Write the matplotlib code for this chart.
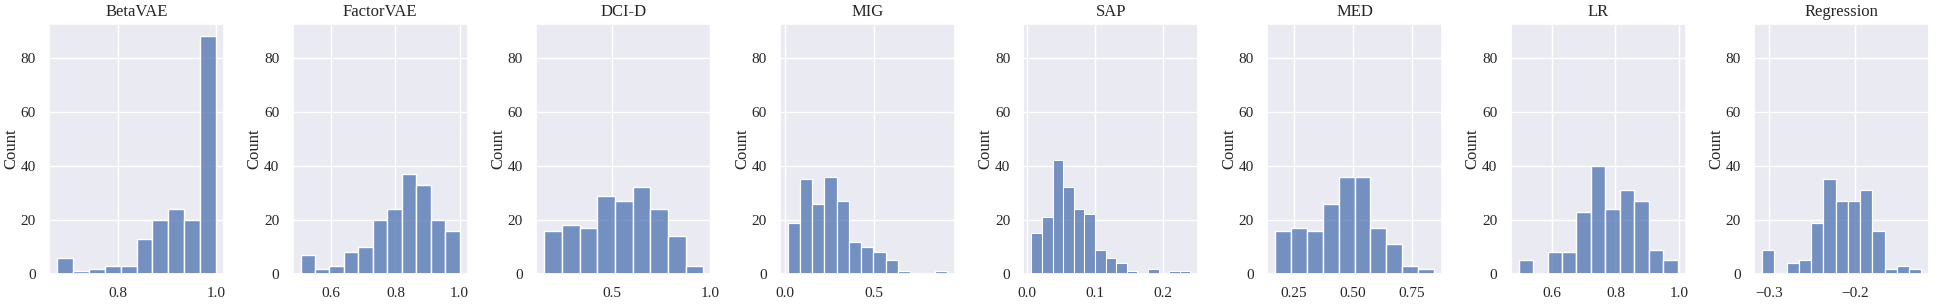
import matplotlib
matplotlib.use('Agg')
import matplotlib.pyplot as plt
import numpy as np
import pandas as pd
import seaborn as sns

# metric names, bin range (lo, hi) and bar counts
metrics = ['BetaVAE', 'FactorVAE', 'DCI-D', 'MIG', 'SAP', 'MED', 'LR', 'Regression']

beta_vae_range = (0.677, 1.0)
beta_vae_counts = [6, 1, 2, 3, 3, 13, 20, 24, 20, 88]

factor_vae_range = (0.505, 1.0)
factor_vae_counts = [7, 2, 3, 8, 10, 20, 24, 37, 33, 20, 16]

dci_range = (0.153, 0.966)
dci_counts = [16, 18, 17, 29, 27, 32, 24, 14, 3]

mig_range = (0.018, 0.906)
mig_counts = [19, 35, 26, 36, 27, 12, 10, 8, 5, 1, 0, 0, 1]

sap_range = (0.0063, 0.240)
sap_counts = [15, 21, 42, 32, 24, 22, 9, 6, 4, 1, 0, 2, 0, 1, 1]

med_range = (0.170, 0.843)
med_counts = [16, 17, 16, 26, 36, 36, 17, 11, 3, 2]

lr_range = (0.497, 0.995)
lr_counts = [5, 0, 8, 8, 23, 40, 24, 31, 27, 9, 5]

regression_range = (-0.3085, -0.1218)
regression_counts = [9, 0, 4, 5, 19, 35, 27, 27, 31, 16, 2, 3, 2]

ranges = [beta_vae_range, factor_vae_range, dci_range, mig_range,
          sap_range, med_range, lr_range, regression_range]
counts = [beta_vae_counts, factor_vae_counts, dci_counts, mig_counts,
          sap_counts, med_counts, lr_counts, regression_counts]

sns.set_theme(style='darkgrid')
plt.rcParams['font.family'] = ['Liberation Serif', 'DejaVu Serif']

fig, axes = plt.subplots(1, 8, figsize=(19.37, 3.04), dpi=100, sharey=True)
fig.subplots_adjust(left=0.0253, right=0.996, top=0.921, bottom=0.0987, wspace=0.392)

for ax, name, (lo, hi), c in zip(axes, metrics, ranges, counts):
    edges = np.linspace(lo, hi, len(c) + 1)
    df = pd.DataFrame({'x': (edges[:-1] + edges[1:]) / 2, 'w': c})
    sns.histplot(data=df, x='x', weights='w', bins=len(c), binrange=(lo, hi), ax=ax)
    ax.set_title(name, fontsize=12)
    ax.set_xlabel('')
    ax.set_ylabel('Count', fontsize=12, labelpad=1)
    ax.yaxis.label.set_visible(True)
    ax.tick_params(labelleft=True, labelsize=11)

axes[0].set_xticks([0.8, 1.0])
axes[1].set_xticks([0.6, 0.8, 1.0])
axes[2].set_xticks([0.5, 1.0])
axes[3].set_xticks([0.0, 0.5])
axes[4].set_xticks([0.0, 0.1, 0.2])
axes[5].set_xticks([0.25, 0.50, 0.75])
axes[6].set_xticks([0.6, 0.8, 1.0])
axes[7].set_xticks([-0.3, -0.2])

plt.savefig('out.png', dpi=100)
